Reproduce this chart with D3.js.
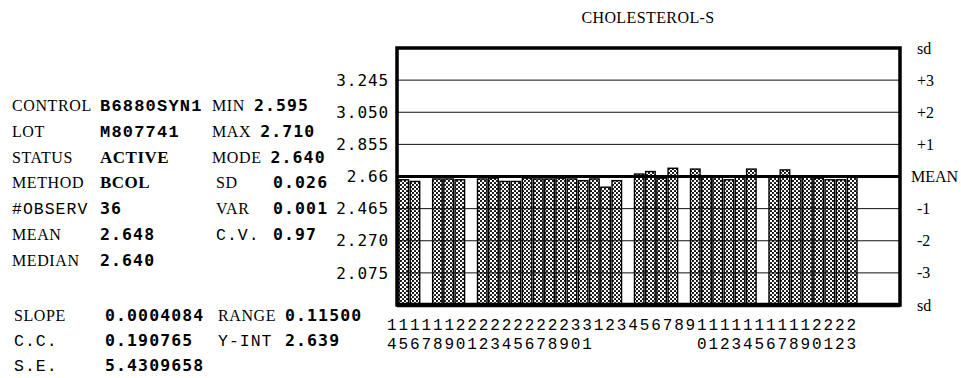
<!DOCTYPE html>
<html><head><meta charset="utf-8">
<script src="https://cdn.jsdelivr.net/npm/d3@7"></script>
<style>body{margin:0;background:#fff}</style>
</head><body><svg id="c" width="961" height="378"></svg>
<script>
const title = "CHOLESTEROL-S";
const days = ["14","15","16","17","18","19","20","21","22","23","24","25","26","27","28","29","30","31",
  "1","2","3","4","5","6","7","8","9","10","11","12","13","14","15","16","17","18","19","20","21","22","23"];
const values = [2.640,2.630,null,2.645,2.645,2.640,null,2.645,2.650,2.630,2.630,2.650,2.645,2.645,2.650,2.645,2.635,2.645,
  2.595,2.635,null,2.675,2.690,2.650,2.710,null,2.705,2.665,2.655,2.640,2.655,2.705,null,2.655,2.700,2.655,2.655,2.650,2.640,2.640,2.655];
const chartMean = 2.66;
const chartStep = 0.195;
const yTickValues = [3.245, 3.050, 2.855, 2.66, 2.465, 2.270, 2.075];
const yTickLabels = ["3.245","3.050","2.855","2.66","2.465","2.270","2.075"];
const sdLevels = [4,3,2,1,0,-1,-2,-3,-4];
const sdLabels = ["sd","+3","+2","+1","MEAN","-1","-2","-3","sd"];
const statLabelsA = ["CONTROL","LOT","STATUS","METHOD","#OBSERV","MEAN","MEDIAN"];
const statValuesA = ["B6880SYN1","M807741","ACTIVE","BCOL","36","2.648","2.640"];
const statLabelsB = ["MIN","MAX","MODE","SD","VAR","C.V.",""];
const statValuesB = ["2.595","2.710","2.640","0.026","0.001","0.97",""];
const regLabelsA = ["SLOPE","C.C.","S.E."];
const regValuesA = ["0.0004084","0.190765","5.4309658"];
const regLabelsB = ["RANGE","Y-INT",""];
const regValuesB = ["0.11500","2.639",""];

const svg = d3.select("#c");
const SERIF = "'Liberation Serif', 'Times New Roman', serif";
const MONO = "'Liberation Mono', 'Courier New', monospace";
const SMONO = "'DejaVu Sans Mono', monospace";
const monoLabels = new Set(["#OBSERV","C.C.","S.E.","C.V.","Y-INT"]);

const plot = {left: 397, right: 900, top: 48, bottom: 305};
const y = d3.scaleLinear().domain([chartMean - 4*chartStep, chartMean + 4*chartStep]).range([plot.bottom, plot.top]);
const idx = d3.range(days.length);
const x = d3.scaleBand().domain(idx).range([399, 857]).paddingInner(0.15).paddingOuter(0);
const xl = d3.scaleBand().domain(idx).range([386, 857]);

// pattern
const defs = svg.append("defs");
const pat = defs.append("pattern").attr("id","dots").attr("patternUnits","userSpaceOnUse")
  .attr("width",4).attr("height",4);
pat.append("rect").attr("width",4).attr("height",4).attr("fill","#fff");
pat.append("circle").attr("cx",1).attr("cy",1).attr("r",1.05).attr("fill","#000");
pat.append("circle").attr("cx",3).attr("cy",3).attr("r",1.05).attr("fill","#000");

// title
svg.append("text").attr("x", 648).attr("y", 23).attr("text-anchor","middle")
  .attr("font-family", SERIF).attr("font-size", 16).attr("letter-spacing", 0.4).text(title);

// bars
const data = idx.map(i => ({i, day: days[i], v: values[i]})).filter(d => d.v != null);
svg.append("g").selectAll("rect").data(data).join("rect")
  .attr("x", d => x(d.i)).attr("width", x.bandwidth())
  .attr("y", d => y(d.v)).attr("height", d => y.range()[0] - y(d.v))
  .attr("fill","url(#dots)").attr("stroke","#000").attr("stroke-width",1.4);

// grid lines (sd levels)
const grid = svg.append("g");
sdLevels.filter(k => Math.abs(k) < 4 && k !== 0).forEach(k => {
  grid.append("line").attr("x1", plot.left).attr("x2", plot.right)
    .attr("y1", y(chartMean + k*chartStep)).attr("y2", y(chartMean + k*chartStep))
    .attr("stroke","#111").attr("stroke-width",1);
});
grid.append("line").attr("x1", plot.left).attr("x2", plot.right)
  .attr("y1", y(chartMean)).attr("y2", y(chartMean)).attr("stroke","#000").attr("stroke-width",3);

// frame
svg.append("rect").attr("x", plot.left).attr("y", plot.top)
  .attr("width", plot.right - plot.left).attr("height", plot.bottom - plot.top)
  .attr("fill","none").attr("stroke","#000").attr("stroke-width",3.5);
svg.append("line").attr("x1", plot.left).attr("x2", plot.right).attr("y1", plot.bottom).attr("y2", plot.bottom)
  .attr("stroke","#000").attr("stroke-width",4.5);

// left axis labels
const yAxis = d3.axisLeft(y).tickValues(yTickValues).tickFormat((d,i) => yTickLabels[i]).tickSize(0).tickPadding(0);
const ga = svg.append("g").attr("transform", `translate(389,0)`).call(yAxis);
ga.select(".domain").remove();
ga.selectAll("text").attr("font-family", SMONO).attr("font-size", 16).attr("letter-spacing", 0.9).attr("fill","#000");

// right sd labels
svg.append("g").selectAll("text").data(sdLevels).join("text")
  .attr("x", (d,i) => sdLabels[i] === "MEAN" ? 911 : 917)
  .attr("y", d => y(chartMean + d*chartStep)).attr("dy","0.35em")
  .attr("font-family", SERIF).attr("font-size", 16)
  .text((d,i) => sdLabels[i]);

// x labels (two rows)
const xg = svg.append("g").attr("font-family", MONO).attr("font-size", 16);
xg.selectAll("text.r1").data(idx).join("text").attr("class","r1")
  .attr("x", i => xl(i) + xl.bandwidth()/2).attr("y", 330).attr("text-anchor","middle")
  .text(i => days[i][0]);
xg.selectAll("text.r2").data(idx).join("text").attr("class","r2")
  .attr("x", i => xl(i) + xl.bandwidth()/2).attr("y", 349).attr("text-anchor","middle")
  .text(i => days[i].length > 1 ? days[i][1] : "");

// stats block
function labelFont(sel, t) {
  if (monoLabels.has(t)) sel.attr("font-family", MONO).attr("font-size", 16.5).attr("letter-spacing", 1);
  else sel.attr("font-family", SERIF).attr("font-size", 16).attr("letter-spacing", 0.6);
}
function valueFont(sel, t) {
  if (/^[A-Z]+$/.test(t)) sel.attr("font-family", SERIF).attr("font-weight","bold").attr("font-size", 17).attr("letter-spacing", 0.5);
  else if (/[A-Z]/.test(t)) sel.attr("font-family", MONO).attr("font-weight","bold").attr("font-size", 17).attr("letter-spacing", 1.2);
  else sel.attr("font-family", SMONO).attr("font-weight","bold").attr("font-size", 16.5).attr("letter-spacing", 1.1);
}
const rowsA = d3.range(statLabelsA.length).map(i => 111 + i*25.8);
const st = svg.append("g").attr("fill","#000");
statLabelsA.forEach((t,i) => {
  st.append("text").attr("x", 12).attr("y", rowsA[i]).call(labelFont, t).text(t);
  st.append("text").attr("x", 100).attr("y", rowsA[i]).call(valueFont, statValuesA[i]).text(statValuesA[i]);
  if (statLabelsB[i]) {
    const lb = st.append("text").attr("x", i < 3 ? 212 : 216).attr("y", rowsA[i]).call(labelFont, statLabelsB[i]).text(statLabelsB[i]);
    const w = lb.node().getComputedTextLength();
    const vx = i < 3 ? 212 + w + 9 : 273;
    st.append("text").attr("x", vx).attr("y", rowsA[i]).call(valueFont, statValuesB[i]).text(statValuesB[i]);
  }
});
const rowsB = [321, 346, 371];
regLabelsA.forEach((t,i) => {
  st.append("text").attr("x", 14).attr("y", rowsB[i]).call(labelFont, t).text(t);
  st.append("text").attr("x", 105).attr("y", rowsB[i]).call(valueFont, regValuesA[i]).text(regValuesA[i]);
  if (regLabelsB[i]) {
    st.append("text").attr("x", 218).attr("y", rowsB[i]).call(labelFont, regLabelsB[i]).text(regLabelsB[i]);
    st.append("text").attr("x", 285).attr("y", rowsB[i]).call(valueFont, regValuesB[i]).text(regValuesB[i]);
  }
});
</script></body></html>
